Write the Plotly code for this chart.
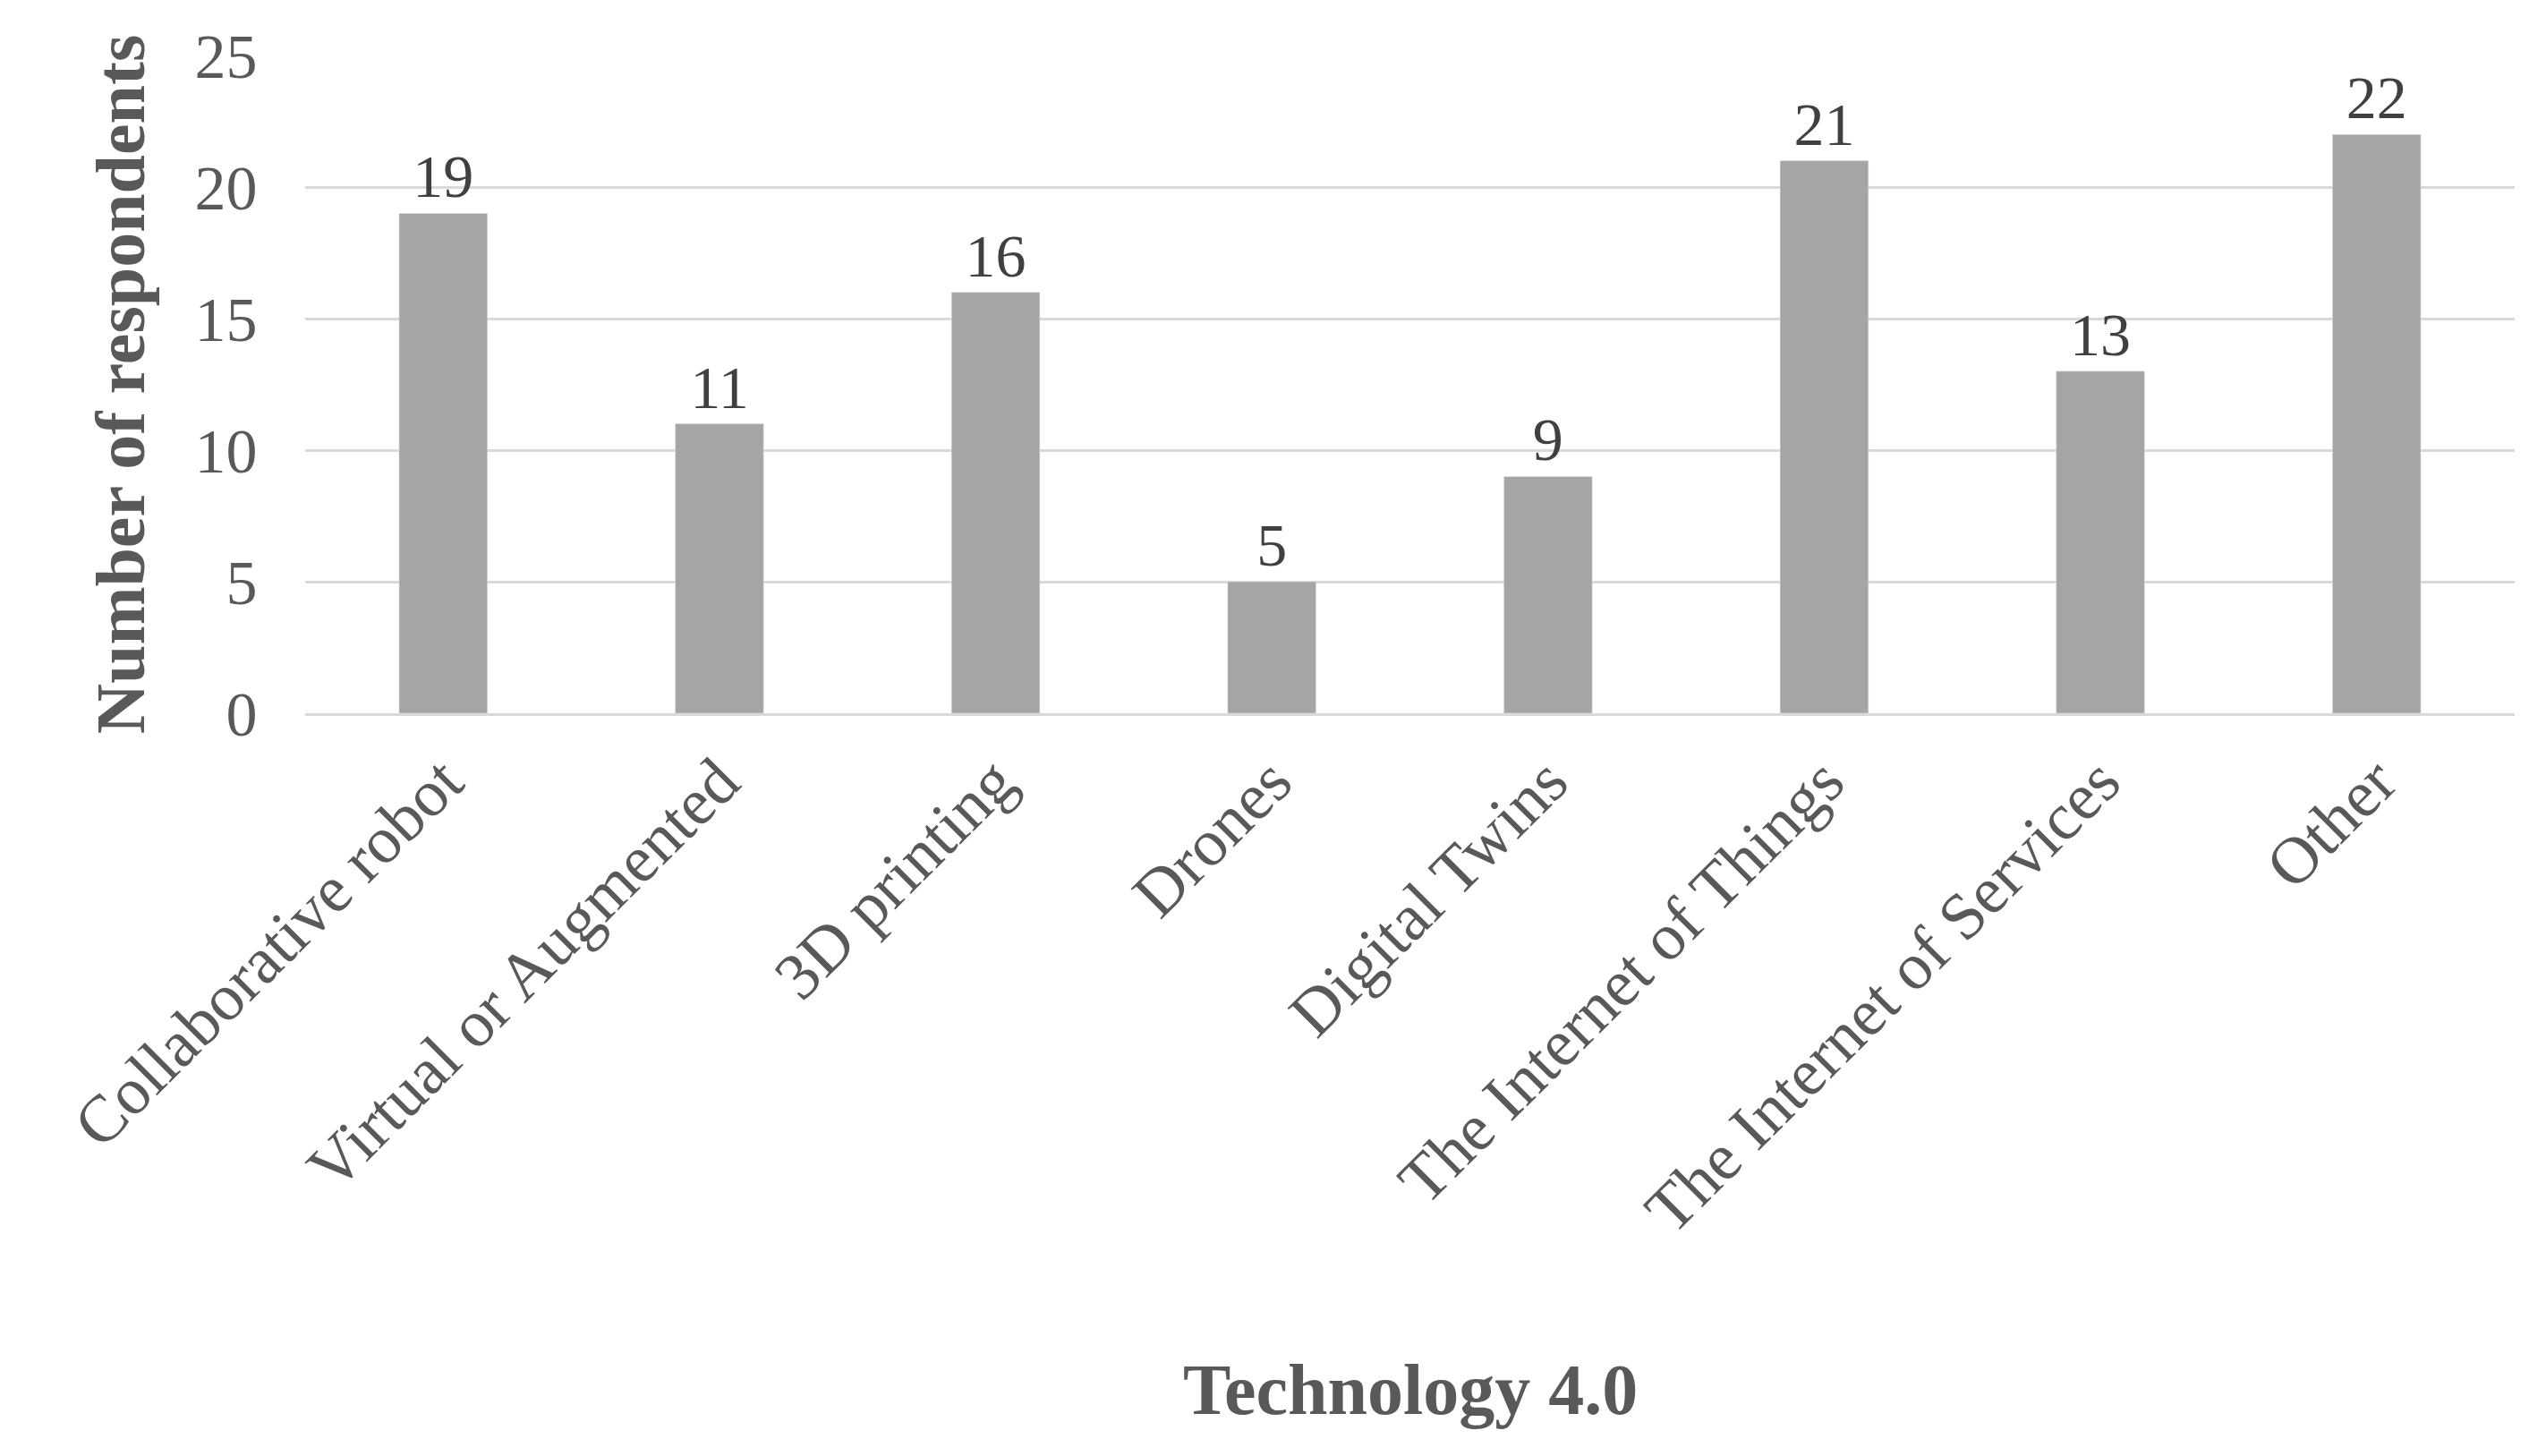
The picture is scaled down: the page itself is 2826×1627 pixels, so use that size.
import plotly.graph_objects as go

categories = ["Collaborative robot", "Virtual or Augmented", "3D printing", "Drones",
              "Digital Twins", "The Internet of Things", "The Internet of Services", "Other"]
values = [19, 11, 16, 5, 9, 21, 13, 22]

font = "Liberation Serif"
fig = go.Figure(go.Bar(
    x=categories, y=values, marker_color="#a5a5a5",
    text=values, textposition="outside", cliponaxis=False,
    textfont=dict(family=font, size=68, color="#404040"),
))
fig.update_layout(
    width=2826, height=1627, plot_bgcolor="white", paper_bgcolor="white",
    margin=dict(l=333, r=24, t=54, b=838),
    bargap=0.68, showlegend=False,
    font=dict(family=font, color="#595959"),
    annotations=[dict(text="<b>Technology 4.0</b>", xref="paper", yref="paper",
                      x=0.5, y=0, yshift=-710, yanchor="top", showarrow=False,
                      font=dict(family=font, size=80, color="#595959"))],
)
fig.update_xaxes(tickangle=-45, tickfont=dict(family=font, size=74, color="#595959"),
                 showline=True, linecolor="#d9d9d9", linewidth=3, ticks="")
fig.update_yaxes(range=[0, 25], dtick=5, gridcolor="#d9d9d9", gridwidth=3, zeroline=False,
                 tickfont=dict(family=font, size=70, color="#595959"), ticklen=0,
                 ticksuffix="   ",
                 title=dict(text="<b>Number of respondents</b>", standoff=30,
                            font=dict(family=font, size=78, color="#595959")))
fig.write_html("out.html")
